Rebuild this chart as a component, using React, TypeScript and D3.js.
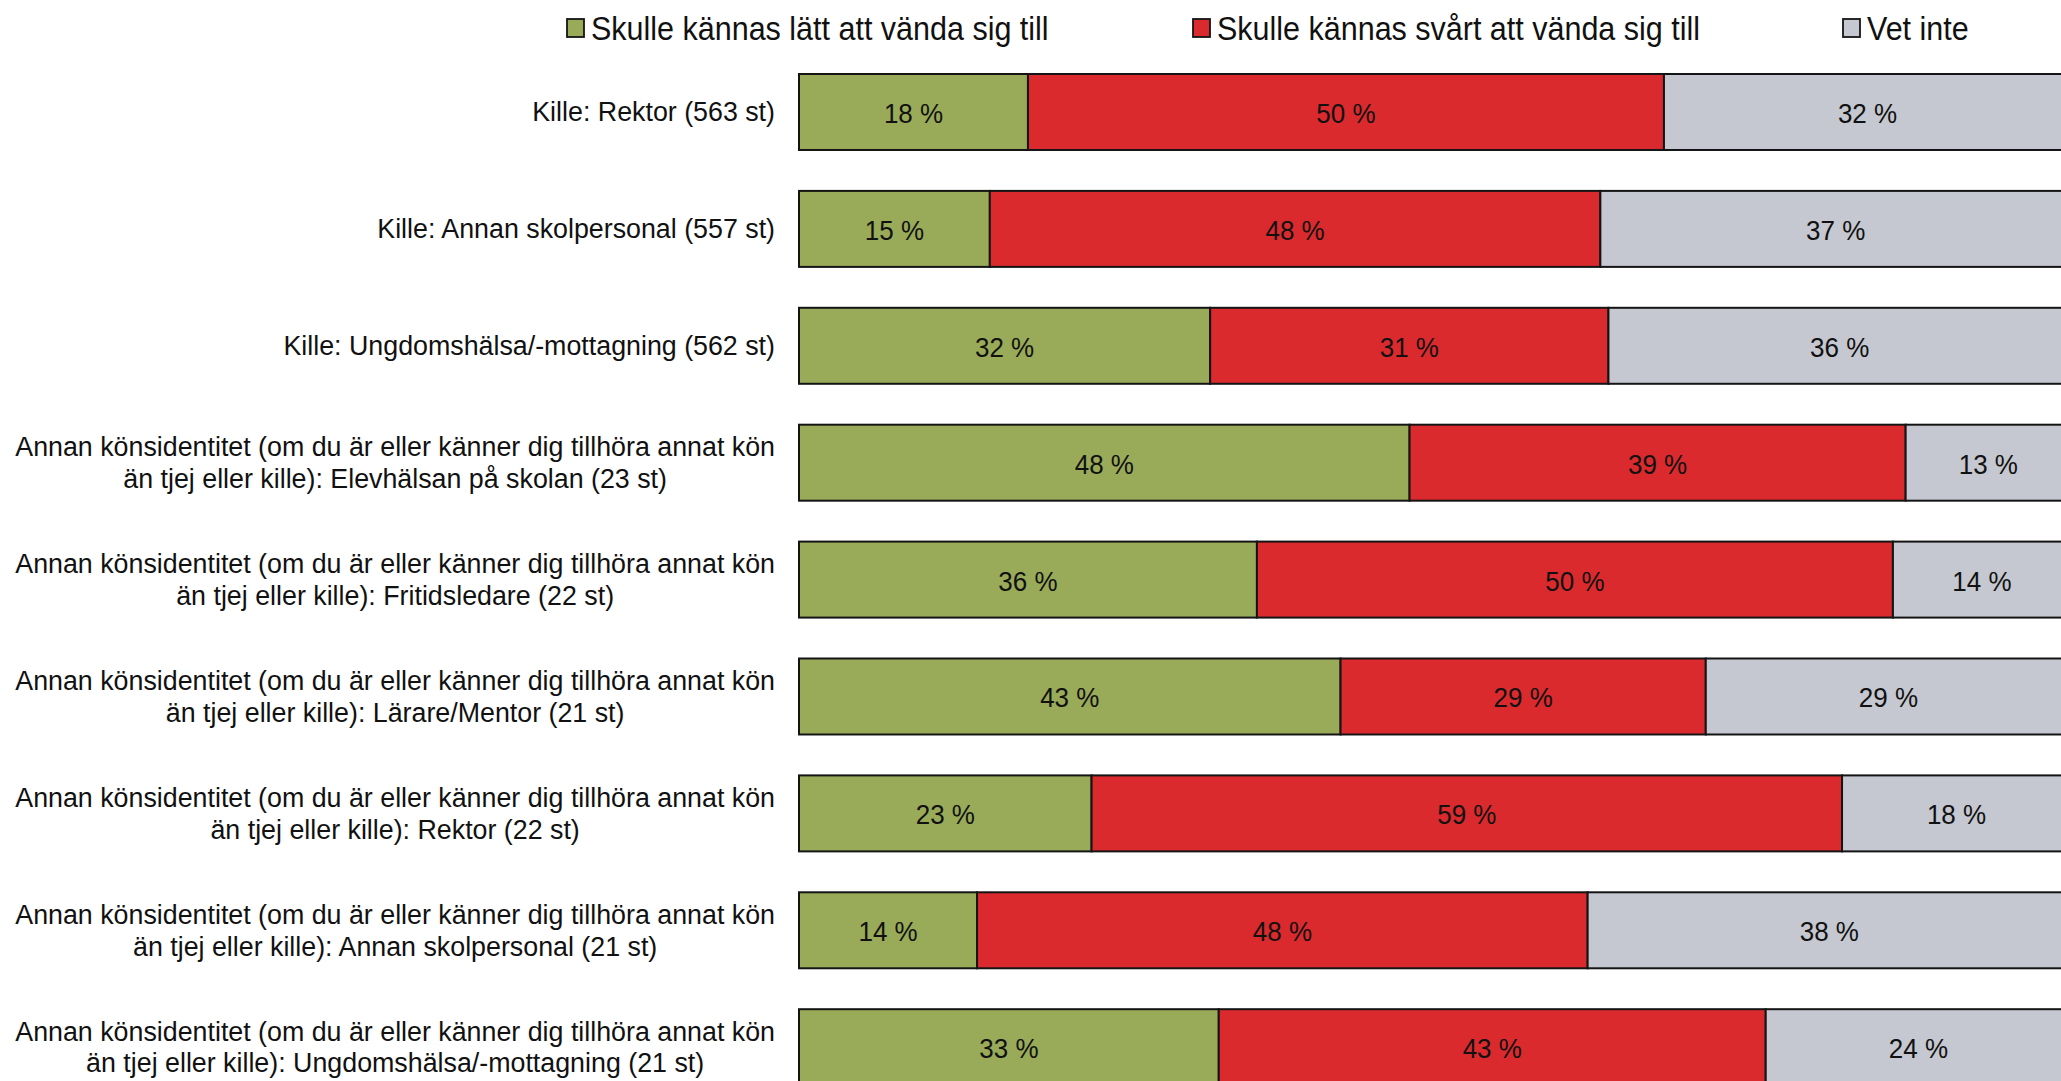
import * as d3 from 'd3';
import { useEffect, useRef } from 'react';

// rows, top to bottom (label lines)
const categories: string[][] = [
  ['Kille: Rektor (563 st)'],
  ['Kille: Annan skolpersonal (557 st)'],
  ['Kille: Ungdomshälsa/-mottagning (562 st)'],
  ['Annan könsidentitet (om du är eller känner dig tillhöra annat kön', 'än tjej eller kille): Elevhälsan på skolan (23 st)'],
  ['Annan könsidentitet (om du är eller känner dig tillhöra annat kön', 'än tjej eller kille): Fritidsledare (22 st)'],
  ['Annan könsidentitet (om du är eller känner dig tillhöra annat kön', 'än tjej eller kille): Lärare/Mentor (21 st)'],
  ['Annan könsidentitet (om du är eller känner dig tillhöra annat kön', 'än tjej eller kille): Rektor (22 st)'],
  ['Annan könsidentitet (om du är eller känner dig tillhöra annat kön', 'än tjej eller kille): Annan skolpersonal (21 st)'],
  ['Annan könsidentitet (om du är eller känner dig tillhöra annat kön', 'än tjej eller kille): Ungdomshälsa/-mottagning (21 st)'],
];

const easy = [18, 15, 32, 48, 36, 43, 23, 14, 33];
const hard = [50, 48, 31, 39, 50, 29, 59, 48, 43];
const dontKnow = [32, 37, 36, 13, 14, 29, 18, 38, 24];

const seriesNames = ['Skulle kännas lätt att vända sig till', 'Skulle kännas svårt att vända sig till', 'Vet inte'];
const seriesColors = ['#99ab59', '#da2a2e', '#c5c8d0'];

const W = 2061;
const H = 1081;
const FONT = '"Liberation Sans", Arial, Helvetica, sans-serif';

export default function App() {
  const ref = useRef<SVGSVGElement | null>(null);

  useEffect(() => {
    document.body.style.margin = '0';
    document.body.style.overflow = 'hidden';
    const svg = d3.select(ref.current);
    svg.selectAll('*').remove();

    const x = d3.scaleLinear().domain([0, 100]).range([799, 2071]);
    const step = 116.9;
    const y = d3.scaleBand<number>()
      .domain(d3.range(categories.length))
      .range([74 - step * 0.175, 74 - step * 0.175 + step * categories.length])
      .paddingInner(0.35)
      .paddingOuter(0.175);

    const rows = categories.map((lines, i) => {
      const vals = [easy[i], hard[i], dontKnow[i]];
      const total = d3.sum(vals);
      let acc = 0;
      const segs = vals.map((v, k) => {
        const s = { k, v, x0: (acc / total) * 100, x1: ((acc + v) / total) * 100 };
        acc += v;
        return s;
      });
      return { i, lines, segs };
    });

    const g = svg.append('g');

    const rowG = g.selectAll('g.row').data(rows).enter().append('g')
      .attr('class', 'row')
      .attr('transform', d => `translate(0,${y(d.i)})`);

    rowG.selectAll('rect').data(d => d.segs).enter().append('rect')
      .attr('x', d => x(d.x0))
      .attr('y', 0)
      .attr('width', d => x(d.x1) - x(d.x0))
      .attr('height', y.bandwidth())
      .attr('fill', d => seriesColors[d.k])
      .attr('stroke', '#141414')
      .attr('stroke-width', 2);

    // value labels are slightly tall in the original, so stretch them a bit vertically
    rowG.selectAll('text.val').data(d => d.segs).enter().append('text')
      .attr('class', 'val')
      .attr('transform', d => `translate(${(x(d.x0) + x(d.x1)) / 2},${y.bandwidth() / 2 + 11}) scale(1,1.07)`)
      .attr('text-anchor', 'middle')
      .attr('font-family', FONT)
      .attr('font-size', 26)
      .attr('fill', '#111')
      .text(d => `${d.v} %`);

    // category labels, lines centred within a block that is right-aligned to the bars
    const labelRight = 775;
    const lineH = 31.5;
    rows.forEach(r => {
      const cy = (y(r.i) ?? 0) + y.bandwidth() / 2;
      const t = g.append('text')
        .attr('font-family', FONT)
        .attr('font-size', 26.8)
        .attr('fill', '#111')
        .attr('text-anchor', 'middle');
      const spans = r.lines.map((line, j) =>
        t.append('tspan')
          .attr('y', cy + 9.5 + (j - (r.lines.length - 1) / 2) * lineH)
          .text(line));
      const maxW = d3.max(spans, s => (s.node() as SVGTSpanElement).getComputedTextLength()) ?? 0;
      spans.forEach(s => s.attr('x', labelRight - maxW / 2));
    });

    // legend
    const legendX = [567, 1193, 1843];
    const legend = svg.append('g').selectAll('g').data(seriesNames).enter().append('g')
      .attr('transform', (_, i) => `translate(${legendX[i]},19)`);
    legend.append('rect')
      .attr('width', 17).attr('height', 18)
      .attr('fill', (_, i) => seriesColors[i])
      .attr('stroke', '#141414').attr('stroke-width', 1.8);
    legend.append('text')
      .attr('transform', 'translate(24,21) scale(1,1.07)')
      .attr('font-family', FONT)
      .attr('font-size', 30.5)
      .attr('fill', '#111')
      .text(d => d);
  }, []);

  return <svg ref={ref} width={W} height={H} style={{ display: 'block', background: '#fff' }} />;
}
